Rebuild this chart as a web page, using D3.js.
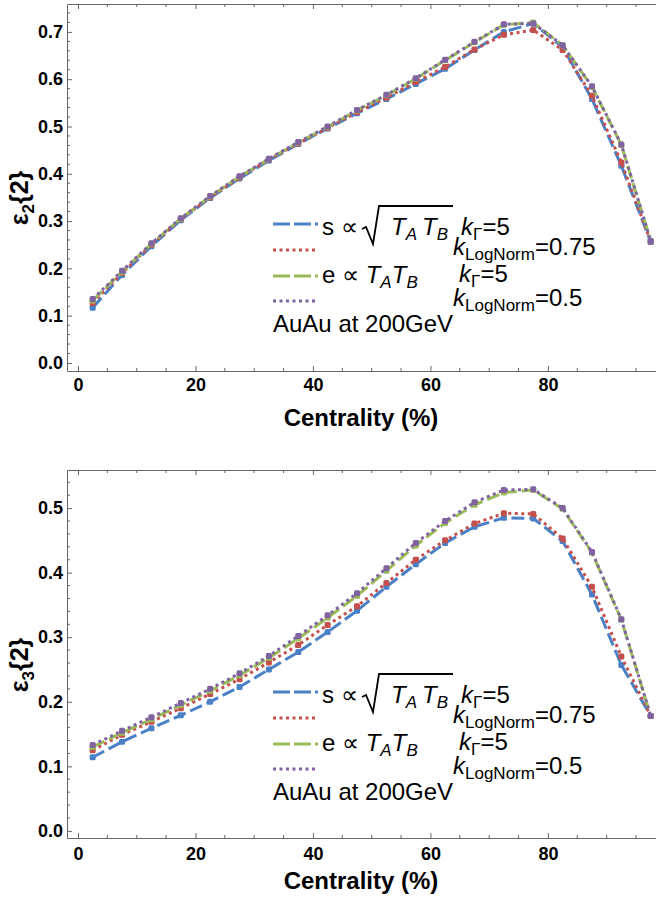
<!DOCTYPE html>
<html>
<head>
<meta charset="utf-8">
<script src="https://cdn.jsdelivr.net/npm/d3@7"></script>
<style>
  html, body { margin: 0; padding: 0; background: #fff; }
  svg { display: block; }
</style>
</head>
<body>
<svg id="chart" width="656" height="901"></svg>
<script>
// ---------- DATA ----------
const centrality = [2.5, 7.5, 12.5, 17.5, 22.5, 27.5, 32.5, 37.5, 42.5, 47.5, 52.5, 57.5, 62.5, 67.5, 72.5, 77.5, 82.5, 87.5, 92.5, 97.5];

// epsilon_2{2}
const e2_sGamma   = [0.117,0.186,0.247,0.302,0.349,0.390,0.428,0.463,0.496,0.528,0.558,0.590,0.622,0.662,0.700,0.718,0.668,0.558,0.417,0.256];
const e2_sLogNorm = [0.127,0.190,0.250,0.304,0.350,0.392,0.430,0.464,0.497,0.530,0.561,0.594,0.626,0.663,0.694,0.704,0.662,0.565,0.424,0.257];
const e2_eGamma   = [0.132,0.193,0.252,0.305,0.352,0.394,0.431,0.466,0.499,0.534,0.566,0.601,0.640,0.678,0.715,0.720,0.672,0.584,0.461,0.258];
const e2_eLogNorm = [0.135,0.195,0.253,0.306,0.353,0.395,0.432,0.467,0.500,0.535,0.567,0.602,0.641,0.679,0.716,0.718,0.672,0.585,0.462,0.258];

// epsilon_3{2}
const e3_sGamma   = [0.114,0.138,0.159,0.179,0.200,0.223,0.250,0.277,0.308,0.341,0.378,0.413,0.446,0.471,0.485,0.484,0.449,0.366,0.257,0.178];
const e3_sLogNorm = [0.125,0.149,0.169,0.190,0.212,0.235,0.261,0.288,0.319,0.348,0.384,0.420,0.450,0.476,0.492,0.491,0.453,0.378,0.270,0.178];
const e3_eGamma   = [0.130,0.152,0.173,0.195,0.217,0.241,0.268,0.298,0.330,0.364,0.403,0.442,0.477,0.505,0.524,0.528,0.499,0.431,0.327,0.178];
const e3_eLogNorm = [0.133,0.155,0.176,0.198,0.220,0.244,0.271,0.302,0.334,0.368,0.407,0.446,0.480,0.509,0.528,0.529,0.500,0.432,0.328,0.178];

const xTicks = [0, 20, 40, 60, 80];
const e2Ticks = [0.0, 0.1, 0.2, 0.3, 0.4, 0.5, 0.6, 0.7];
const e3Ticks = [0.0, 0.1, 0.2, 0.3, 0.4, 0.5];
const xLabel = "Centrality (%)";
const systemLabel = "AuAu at 200GeV";

// ---------- STYLE ----------
const colors = ["#4a80c6", "#c4504d", "#9bbb59", "#8064a2"];
const dashes = ["13,5", "3,3.5", "13,5", "3,3.5"];

const svg = d3.select("#chart");

function drawPanel(opt) {
  const g = svg.append("g");
  const x = d3.scaleLinear().domain([-1.87, 98.4]).range([67, 656]);
  const y = d3.scaleLinear().domain(opt.yDomain).range([opt.bottom, opt.top]);
  const axisColor = "#666";

  const xMinor = d3.range(0, 100, 5).filter(v => v % 20 !== 0);
  const yMinor = d3.range(0, opt.yDomain[1], 0.02).filter(v => Math.abs(Math.round(v * 10) - v * 10) > 1e-6);

  // bottom axis
  const xb = g.append("g").attr("transform", `translate(0,${opt.bottom})`)
    .call(d3.axisBottom(x).tickValues(xTicks).tickSizeInner(-5).tickSizeOuter(0).tickPadding(opt.xPad).tickFormat(d3.format("d")));
  xb.select(".domain").attr("stroke", axisColor);
  xb.selectAll(".tick line").attr("stroke", axisColor);
  xb.selectAll("text").attr("font-family", "Arial, 'Liberation Sans', sans-serif").attr("font-weight", "bold").attr("font-size", 18).attr("fill", "#000");
  xb.selectAll(".minor").data(xMinor).enter().append("line")
    .attr("x1", d => x(d)).attr("x2", d => x(d)).attr("y1", 0).attr("y2", -3).attr("stroke", axisColor);

  // top frame
  const xt = g.append("g").attr("transform", `translate(0,${opt.top})`)
    .call(d3.axisTop(x).tickValues(xTicks).tickSizeInner(-5).tickSizeOuter(0).tickFormat(""));
  xt.select(".domain").attr("stroke", axisColor);
  xt.selectAll(".tick line").attr("stroke", axisColor);
  xt.selectAll(".minor").data(xMinor).enter().append("line")
    .attr("x1", d => x(d)).attr("x2", d => x(d)).attr("y1", 0).attr("y2", 3).attr("stroke", axisColor);

  // left axis
  const yl = g.append("g").attr("transform", `translate(67,0)`)
    .call(d3.axisLeft(y).tickValues(opt.yTicks).tickSizeInner(-5).tickSizeOuter(0).tickPadding(4).tickFormat(d3.format(".1f")));
  yl.select(".domain").attr("stroke", axisColor);
  yl.selectAll(".tick line").attr("stroke", axisColor);
  yl.selectAll("text").attr("font-family", "Arial, 'Liberation Sans', sans-serif").attr("font-weight", "bold").attr("font-size", 18).attr("fill", "#000");
  yl.selectAll(".minor").data(yMinor).enter().append("line")
    .attr("x1", 0).attr("x2", 3).attr("y1", d => y(d)).attr("y2", d => y(d)).attr("stroke", axisColor);

  // series
  const line = d3.line().x((d, i) => x(centrality[i])).y(d => y(d));
  opt.series.forEach((s, k) => {
    g.append("path").datum(s)
      .attr("d", line)
      .attr("fill", "none")
      .attr("stroke", colors[k])
      .attr("stroke-width", 3)
      .attr("stroke-dasharray", dashes[k]);
    g.selectAll(null).data(s).enter().append("rect")
      .attr("x", (d, i) => x(centrality[i]) - 3)
      .attr("y", d => y(d) - 3)
      .attr("width", 6).attr("height", 6).attr("rx", 1.5)
      .attr("fill", colors[k]);
  });

  // axis titles
  g.append("text")
    .attr("x", 361).attr("y", opt.xTitleY)
    .attr("text-anchor", "middle")
    .attr("font-family", "Arial, 'Liberation Sans', sans-serif")
    .attr("font-weight", "bold").attr("font-size", 24)
    .text(xLabel);

  const yt = g.append("text")
    .attr("transform", `translate(28,${opt.yTitleY}) rotate(-90)`)
    .attr("text-anchor", "middle")
    .attr("font-family", "Arial, 'Liberation Sans', sans-serif")
    .attr("font-weight", "bold").attr("font-size", 25);
  yt.append("tspan").text("ε");
  yt.append("tspan").attr("font-size", 17).attr("dy", 6).text(opt.sub);
  yt.append("tspan").attr("dy", -6).text("{2}");

  // legend
  const L = g.append("g").attr("transform", `translate(0,${opt.legendY})`);
  const rows = [0, 26, 52, 77];
  const font = "Arial, 'Liberation Sans', sans-serif";
  colors.forEach((c, k) => {
    L.append("line").attr("x1", 273).attr("x2", 318).attr("y1", rows[k]).attr("y2", rows[k])
      .attr("stroke", c).attr("stroke-width", 3).attr("stroke-dasharray", k % 2 === 0 ? "17,4" : "3,3.5");
  });
  // row 1: s ∝ sqrt(T_A T_B)  kΓ=5
  const t1 = L.append("text").attr("x", 322).attr("y", 11).attr("font-family", font).attr("font-size", 24);
  t1.append("tspan").text("s ∝");
  L.append("path").attr("d", "M 362 5 L 366 3 L 373 20 L 379 -18 L 453 -18")
    .attr("fill", "none").attr("stroke", "#000").attr("stroke-width", 1.8);
  const t1b = L.append("text").attr("x", 391).attr("y", 11).attr("font-family", font).attr("font-size", 24);
  t1b.append("tspan").attr("font-style", "italic").text("T");
  t1b.append("tspan").attr("font-style", "italic").attr("font-size", 17).attr("dy", 5).text("A");
  t1b.append("tspan").attr("font-style", "italic").attr("dy", -5).attr("dx", 5).text("T");
  t1b.append("tspan").attr("font-style", "italic").attr("font-size", 17).attr("dy", 5).text("B");
  const k1 = L.append("text").attr("x", 461).attr("y", 11).attr("font-family", font).attr("font-size", 24);
  k1.append("tspan").attr("font-style", "italic").text("k");
  k1.append("tspan").attr("font-size", 17).attr("dy", 5).text("Γ");
  k1.append("tspan").attr("dy", -5).text("=5");
  // row 2
  const k2 = L.append("text").attr("x", 453).attr("y", 31).attr("font-family", font).attr("font-size", 24);
  k2.append("tspan").attr("font-style", "italic").text("k");
  k2.append("tspan").attr("font-size", 17).attr("dy", 5).text("LogNorm");
  k2.append("tspan").attr("dy", -5).text("=0.75");
  // row 3
  const t3 = L.append("text").attr("x", 322).attr("y", 59).attr("font-family", font).attr("font-size", 24);
  t3.append("tspan").text("e ∝ ");
  t3.append("tspan").attr("font-style", "italic").text("T");
  t3.append("tspan").attr("font-style", "italic").attr("font-size", 17).attr("dy", 5).text("A");
  t3.append("tspan").attr("font-style", "italic").attr("dy", -5).text("T");
  t3.append("tspan").attr("font-style", "italic").attr("font-size", 17).attr("dy", 5).text("B");
  const k3 = L.append("text").attr("x", 459).attr("y", 58).attr("font-family", font).attr("font-size", 24);
  k3.append("tspan").attr("font-style", "italic").text("k");
  k3.append("tspan").attr("font-size", 17).attr("dy", 5).text("Γ");
  k3.append("tspan").attr("dy", -5).text("=5");
  // row 4
  const k4 = L.append("text").attr("x", 453).attr("y", 82).attr("font-family", font).attr("font-size", 24);
  k4.append("tspan").attr("font-style", "italic").text("k");
  k4.append("tspan").attr("font-size", 17).attr("dy", 5).text("LogNorm");
  k4.append("tspan").attr("dy", -5).text("=0.5");
  // system
  L.append("text").attr("x", 273).attr("y", 108).attr("font-family", font).attr("font-size", 24).text(systemLabel);
}

drawPanel({
  top: 4, bottom: 371, yDomain: [-0.017, 0.759], yTicks: e2Ticks,
  series: [e2_sGamma, e2_sLogNorm, e2_eGamma, e2_eLogNorm],
  xPad: 7, xTitleY: 426, yTitleY: 198, sub: "2", legendY: 224
});
drawPanel({
  top: 470, bottom: 838, yDomain: [-0.011, 0.559], yTicks: e3Ticks,
  series: [e3_sGamma, e3_sLogNorm, e3_eGamma, e3_eLogNorm],
  xPad: 9, xTitleY: 889, yTitleY: 665, sub: "3", legendY: 692
});
</script>
</body>
</html>
